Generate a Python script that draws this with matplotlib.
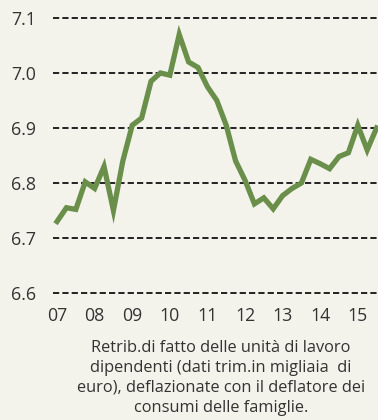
import numpy as np
import matplotlib
matplotlib.use("Agg")
from matplotlib import pyplot as plt

# quarterly values, 2007Q1 .. 2015Q3
retrib = [6.730, 6.755, 6.752, 6.802, 6.790, 6.830, 6.750, 6.840,
          6.905, 6.918, 6.985, 7.000, 6.996, 7.070, 7.020, 7.010,
          6.975, 6.950, 6.905, 6.840, 6.805, 6.762, 6.773, 6.753,
          6.777, 6.790, 6.800, 6.843, 6.835, 6.826, 6.848, 6.855,
          6.905, 6.860, 6.900]
year_labels = ["07", "08", "09", "10", "11", "12", "13", "14", "15"]
y_ticks = [6.6, 6.7, 6.8, 6.9, 7.0, 7.1]

caption = ("Retrib.di fatto delle unità di lavoro\n"
           "dipendenti (dati trim.in migliaia  di\n"
           "euro), deflazionate con il deflatore dei\n"
           "consumi delle famiglie.")

BG = "#f4f3eb"
GREEN = "#6a8f4a"

plt.rcParams['font.family'] = ['Open Sans', 'DejaVu Sans']

fig = plt.figure(figsize=(3.78, 4.2), dpi=100, facecolor=BG)
ax = fig.add_axes([53 / 378, 0.2893, 325 / 378, 0.681])
ax.set_facecolor(BG)

x = np.arange(len(retrib))
ax.plot(x, retrib, color=GREEN, lw=3.8, solid_joinstyle='miter', zorder=3)

ax.set_xlim(-0.43, 34.15)
ax.set_ylim(6.59, 7.11)
ax.set_yticks(y_ticks)
ax.set_yticklabels([f"{v:.1f}" for v in y_ticks])
ax.set_xticks(np.arange(0, 36, 4))
ax.set_xticklabels(year_labels)

ax.grid(axis='y', color='#222222', lw=1.4, linestyle=(0, (3.2, 1.6)))
ax.tick_params(length=0, labelsize=12.8, colors='#333333')
ax.tick_params(axis='y', pad=12)
ax.tick_params(axis='x', pad=6)
for s in ax.spines.values():
    s.set_visible(False)

fig.text(0.585, 0.101, caption, ha='center', va='center', multialignment='center',
         fontsize=11.8, color='#333333', linespacing=1.33)

fig.savefig("out.png", dpi=100, facecolor=BG)
